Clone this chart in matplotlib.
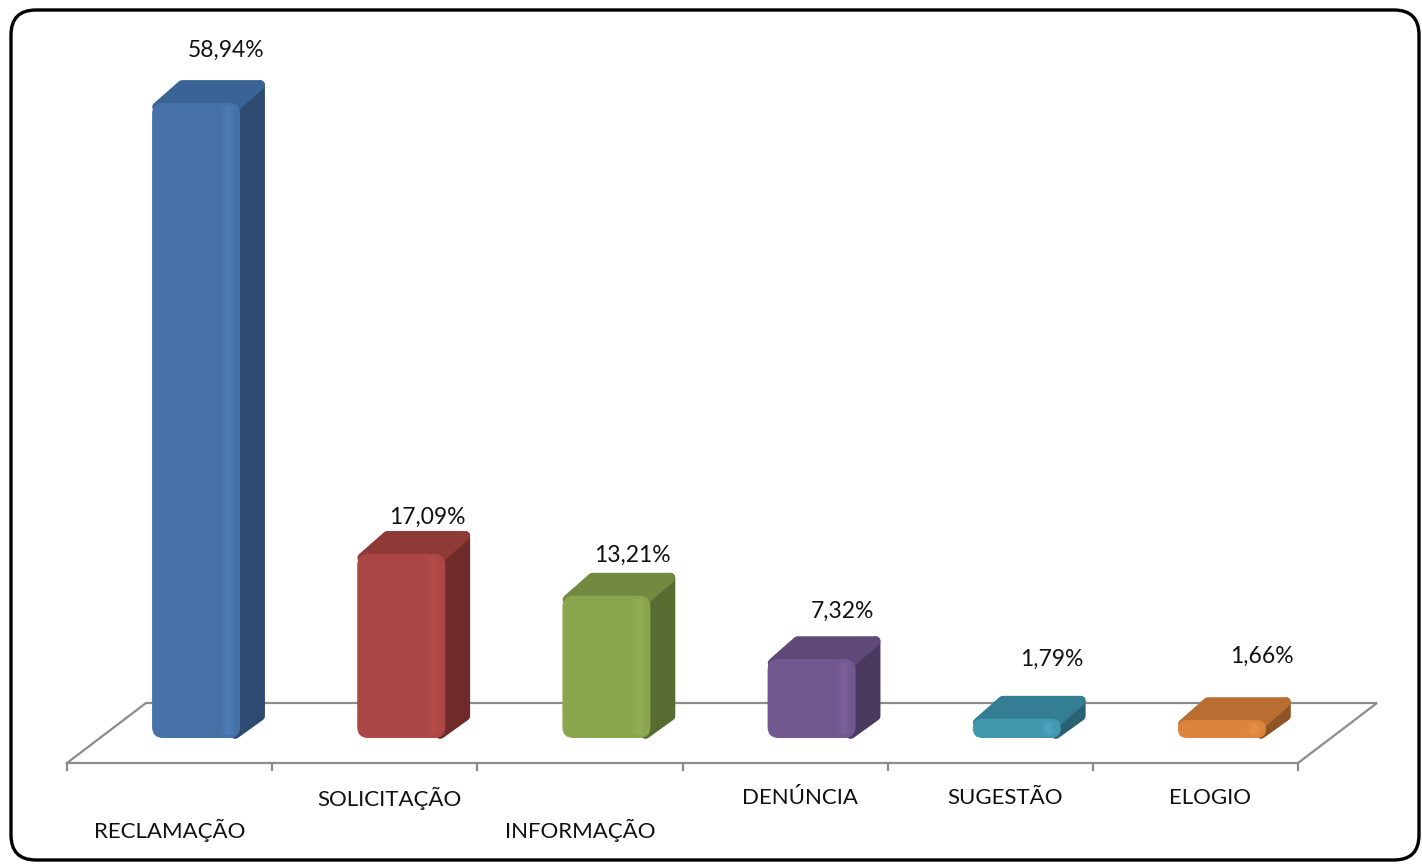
import numpy as np
import matplotlib.pyplot as plt
from matplotlib.patches import FancyBboxPatch, Polygon

categories = ['RECLAMAÇÃO', 'SOLICITAÇÃO', 'INFORMAÇÃO', 'DENÚNCIA', 'SUGESTÃO', 'ELOGIO']
values = [58.94, 17.09, 13.21, 7.32, 1.79, 1.66]
value_labels = ['58,94%', '17,09%', '13,21%', '7,32%', '1,79%', '1,66%']

# front / top / side shades per bar
front_colors = ['#4672A8', '#AA4643', '#89A54E', '#71588F', '#4198AF', '#DB843D']
top_colors = ['#3B6496', '#8F3A37', '#718A40', '#5E4979', '#337E92', '#B86D31']
side_colors = ['#2D4B70', '#6E2B29', '#586B31', '#4A3A60', '#286273', '#8F5426']
light_colors = ['#5687C2', '#BF5550', '#9BB95E', '#8468A3', '#55AFC8', '#F0994E']

# label placement tweaks (Excel perspective), in % units / category units
label_dy = [7.2, 5.7, 6.1, 6.8, 7.8, 8.2]
label_dx = [0.146, 0.127, 0.127, 0.151, 0.171, 0.195]
label_row = [1, 0, 1, 0, 0, 0]   # 1 = lower row

W, H = 1422, 864
UX = 205.17     # px per category
UY = 10.774     # px per percent
X0, Y0 = 67, 763  # pixel of first tick / floor front line

fig = plt.figure(figsize=(W / 100, H / 100), dpi=100)
ax = fig.add_axes([0, 0, 1, 1])
ax.set_xlim(-0.5 - X0 / UX, -0.5 + (W - X0) / UX)
ax.set_ylim(-(H - Y0) / UY, Y0 / UY)
ax.axis('off')
plt.rcParams['font.family'] = ['Lato', 'DejaVu Sans']

n = len(values)
# floor
fdx, fdy = 79 / UX, 60 / UY
gray = '#8C8C8C'
xa, xb = -0.5, n - 0.5
ax.plot([xa, xb, xb + fdx, xa + fdx, xa], [0, 0, fdy, fdy, 0],
        color=gray, lw=1.6, zorder=1, solid_joinstyle='miter')
for t in np.arange(n + 1) - 0.5:
    ax.plot([t, t], [0, -7 / UY], color=gray, lw=1.6, zorder=1)

# bars
hw = 44 / UX
fx, fy = 26.5 / UX, 25 / UY
bdx, bdy = 25 / UX, 22 / UY
ix, iy = 5 / UX, 4 / UY   # inset so the round stroke keeps the outline
for i, v in enumerate(values):
    cx = i + fx
    xl, xr = cx - hw, cx + hw
    yb, yt = fy, fy + v
    side = Polygon([(xr - ix, yb + iy), (xr + bdx - ix, yb + bdy),
                    (xr + bdx - ix, yt + bdy - iy), (xr - ix, yt)],
                   closed=True, fc=side_colors[i], ec=side_colors[i], lw=7,
                   joinstyle='round', zorder=3)
    top = Polygon([(xl + ix, yt - iy), (xr - ix, yt - iy),
                   (xr + bdx - ix, yt + bdy - iy), (xl + bdx + ix, yt + bdy - iy)],
                  closed=True, fc=top_colors[i], ec=top_colors[i], lw=7,
                  joinstyle='round', zorder=3)
    ax.add_patch(side)
    ax.add_patch(top)
    r_px = min(11, v * UY / 2)
    front = FancyBboxPatch((xl, yb), 2 * hw, v,
                           boxstyle='round,pad=0,rounding_size=%f' % (r_px / UX),
                           mutation_aspect=UX / UY, fc=front_colors[i],
                           ec='none', zorder=4)
    ax.add_patch(front)
    # soft highlight near the right edge of the front face
    for k, a in enumerate([0.12, 0.2, 0.28]):
        w_px = 14 - 4 * k
        hl = FancyBboxPatch((xr - 12 / UX - w_px / 2 / UX, yb + 3 / UY), w_px / UX,
                            max(v - 6 / UY, 0.01),
                            boxstyle='round,pad=0,rounding_size=%f' % (min(3, w_px / 2) / UX),
                            mutation_aspect=UX / UY, fc=light_colors[i],
                            ec='none', alpha=a, zorder=5)
        ax.add_patch(hl)

    ax.text(cx + label_dx[i], v + label_dy[i], value_labels[i],
            ha='center', va='center', fontsize=16.5, color='#111111', zorder=6)

for i, c in enumerate(categories):
    if label_row[i]:
        ax.text(i, -67 / UY, c, ha='center', va='center', fontsize=16, color='#111111')
    else:
        ax.text(i + 0.073, -35 / UY, c, ha='center', va='center', fontsize=16, color='#111111')

# rounded outer border
border = FancyBboxPatch((11 / W, 1 - 860 / H), 1408 / W, 850 / H,
                        boxstyle='round,pad=0,rounding_size=%f' % (25 / W),
                        mutation_aspect=W / H, transform=ax.transAxes,
                        fc='none', ec='black', lw=2.4, zorder=10, clip_on=False)
ax.add_patch(border)

fig.savefig('out.png', dpi=100, facecolor='white')
